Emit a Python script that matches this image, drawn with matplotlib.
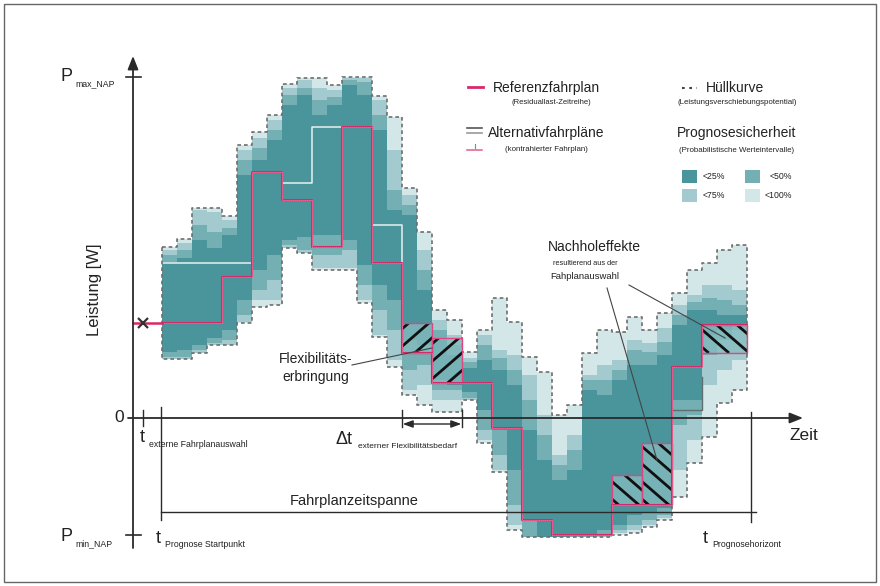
import numpy as np
import matplotlib
matplotlib.use('Agg')
import matplotlib.pyplot as plt
from matplotlib.patches import Rectangle

plt.rcParams['font.family'] = ['Liberation Sans', 'DejaVu Sans']

# ---------------- data (time in schedule steps, power in arbitrary units) -------------
# envelope (<100 %) and probability intervals per time step
hull_hi = [171,179,210,210,202,273,286,303,334,340, 340,333,341,341,322,301,230,186,108,98,
           66,88,120,96,61,46,3,13,65,88, 86,101,88,105,125,148,155,168,173]
hull_lo = [59,59,65,73,73,95,111,113,170,165, 148,148,148,115,81,51,23,13,6,6,
           18,-25,-54,-112,-119,-119,-119,-119,-119,-119, -117,-115,-109,-102,-79,-45,-19,15,28]
c75_hi = [168,175,208,206,198,268,280,298,330,338, 330,328,340,340,318,268,223,168,98,83,
          60,83,68,63,43,3,-37,-17,43,53, 58,78,75,90,113,123,133,133,128]
c75_lo = [59,59,65,73,73,96,118,118,170,165, 150,150,150,118,83,58,28,33,18,18,
          18,-22,-52,-107,-119,-119,-119,-119,-119,-119, -115,-112,-107,-100,-52,-22,33,48,58]
c50_hi = [163,168,193,186,190,258,270,288,323,330, 318,321,338,336,303,228,213,148,88,73,
          56,73,60,48,18,-17,-47,-32,38,38, 48,68,66,76,103,116,120,118,113]
c50_lo = [61,61,68,75,78,103,128,138,173,168, 163,163,168,133,108,88,48,53,28,28,
          20,-12,-37,-87,-119,-119,-119,-119,-119,-117, -112,-107,-102,-97,-7,3,63,78,88]
c25_hi = [156,160,178,170,183,243,258,278,313,323, 303,313,333,323,288,208,203,128,78,63,
          50,58,48,33,-12,-42,-62,-52,28,23, 38,53,53,63,93,108,108,103,103]
c25_lo = [66,68,73,80,88,118,148,163,178,181, 183,183,178,153,133,118,78,73,38,33,
          26,8,-12,-52,-102,-119,-119,-117,-117,-112, -107,-97,-94,-90,18,18,83,88,93]

# reference schedule (one value per 2 time steps)
ref_start = [0,2,4,6,8,10,12,14,16,18,20,22,24,26,28,30,32,34,36,38]
ref_vals = [95,95,141,246,218,171,291,155,65,35,35,-10,-102,-117,-117,-87,-87,51,93,93]

# alternative schedules
alt1_t = [0,2,4,6,8,10,12,14,16]
alt1_v = [155,155,155,246,235,291,291,193,95]
alt2_t = [34,36]
alt2_v = [8,41]

# hatched differences (flexibility provision / catch-up effects)
hatch_t0 = [16,18,30,32,36]
hatch_t1 = [18,20,32,34,39]
hatch_lo = [65,35,-87,-87,65]
hatch_hi = [95,80,-57,-25,93]
hatch_dir = [1, 1, -1, -1, -1]   # 1 = rising '/', -1 = falling '\'

P_max, P_min = 341, -117
t_ext, t_start, t_horizon = -1.27, 0.0, 39.27
flex_t0, flex_t1 = 16, 20

legend_labels = ['<25%', '<50%', '<75%', '<100%']

# ---------------- styling -------------
C25, C50, C75, C100 = '#4a959c', '#74afb3', '#a3cbcf', '#d3e6e8'
RED = '#d62a68'
DARK = '#2a2a2a'

fig = plt.figure(figsize=(8.8, 5.86), dpi=100)
ax = fig.add_axes([0, 0, 1, 1])
W, H = 880, 586
ax.set_xlim(-162/15, (W-162)/15)
ax.set_ylim(418-H, 418)
ax.axis('off')

def X(px):
    return (px-162)/15
def Y(py):
    return 418-py

fig.patches.append(Rectangle((0.004, 0.006), 0.992, 0.988, transform=fig.transFigure,
                             fill=False, ec='#666666', lw=1.0))

n = len(hull_hi)
t_edges = np.arange(n+1)
def ext(v):
    return np.append(v, v[-1])

for lo, hi, col in [(hull_lo, hull_hi, C100), (c75_lo, c75_hi, C75),
                    (c50_lo, c50_hi, C50), (c25_lo, c25_hi, C25)]:
    ax.fill_between(t_edges, ext(lo), ext(hi), step='post', color=col, lw=0, zorder=1)

# envelope outline
sx = np.repeat(t_edges, 2)[1:-1]
top_y = np.repeat(hull_hi, 2)
bot_y = np.repeat(hull_lo, 2)
ox = np.concatenate([sx, sx[::-1], sx[:1]])
oy = np.concatenate([top_y, bot_y[::-1], top_y[:1]])
ax.plot(ox, oy, color='#6e6e6e', lw=1.2, ls=(0, (2.2, 1.8)), zorder=3)

# alternative schedules
ax.step(alt1_t, alt1_v, where='post', color='#e9f1f2', lw=1.1, zorder=2)
ax.step(alt2_t, alt2_v, where='post', color='#5f6e70', lw=1.0, zorder=2)

# hatched boxes (diagonal lines clipped to the box)
k_slope = 13.0   # power units per time step for the hatch lines
for t0, t1, lo, hi, d in zip(hatch_t0, hatch_t1, hatch_lo, hatch_hi, hatch_dir):
    rect = Rectangle((t0, lo), t1-t0, hi-lo, facecolor='#86bdc0', alpha=0.75, lw=0, zorder=4)
    ax.add_patch(rect)
    span = (hi-lo)/k_slope
    for c in np.arange(t0-span+0.45, t1+0.01, 1.35):
        if d > 0:
            ln, = ax.plot([c, c+span], [lo, hi], color='#111111', lw=2.0,
                          solid_capstyle='butt', zorder=4)
        else:
            ln, = ax.plot([c, c+span], [hi, lo], color='#111111', lw=2.0,
                          solid_capstyle='butt', zorder=4)
        ln.set_clip_path(rect)
    ax.add_patch(Rectangle((t0, lo), t1-t0, hi-lo, facecolor='none', edgecolor='#e0457f',
                           lw=1.0, zorder=5))

# reference schedule
rx = np.append(ref_start, n)
ry = ext(ref_vals)
ax.step(rx, ry, where='post', color=RED, lw=1.5, zorder=6)
ax.step(rx, ry, where='post', color='#f6b6cb', lw=0.6, ls=(0, (1, 1.4)), zorder=6)
t_axis = X(133)
ax.plot([t_axis, 0], [ref_vals[0]]*2, color=RED, lw=1.8, zorder=6)
ax.plot([t_ext], [ref_vals[0]], marker='x', color='#333333', ms=7, mew=1.6, zorder=7)

# axes
arrow = dict(arrowstyle='-|>,head_length=0.8,head_width=0.32', color=DARK, lw=1.3,
             shrinkA=0, shrinkB=0)
ax.annotate('', xy=(t_axis, Y(56)), xytext=(t_axis, Y(548)), arrowprops=arrow, zorder=8)
ax.annotate('', xy=(X(803), 0), xytext=(X(128), 0), arrowprops=arrow, zorder=8)
for p in (P_max, P_min):
    ax.plot([X(126), X(141)], [p, p], color=DARK, lw=1.2, zorder=8)

# time markers
ax.plot([t_ext, t_ext], [Y(410), Y(426)], color=DARK, lw=1.0, zorder=8)
ax.plot([t_start-0.07, t_start-0.07], [Y(407), Y(520)], color=DARK, lw=1.0, zorder=8)
ax.plot([t_start-0.07, X(756)], [Y(512), Y(512)], color=DARK, lw=1.0, zorder=8)
ax.plot([t_horizon, t_horizon], [Y(412), Y(522)], color=DARK, lw=1.0, zorder=8)
for t in (flex_t0, flex_t1):
    ax.plot([t, t], [Y(410), Y(427)], color=DARK, lw=1.0, zorder=8)
ax.annotate('', xy=(flex_t1-0.05, Y(424)), xytext=(flex_t0+0.05, Y(424)),
            arrowprops=dict(arrowstyle='<|-|>,head_length=0.6,head_width=0.22', color=DARK,
                            lw=1.0, shrinkA=0, shrinkB=0), zorder=8)

TXT = '#222222'
def txt(px, py, s, size, ha='left', va='baseline', **kw):
    ax.text(X(px), Y(py), s, fontsize=size, ha=ha, va=va, color=TXT, **kw)

# axis labels
txt(61, 81, 'P', 13)
txt(75, 86, 'max_NAP', 6.3)
txt(61, 541, 'P', 13)
txt(75, 546, 'min_NAP', 6.3)
txt(124, 418, '0', 12.5, ha='right', va='center')
txt(95, 290, 'Leistung [W]', 12, ha='center', va='center', rotation=90)
txt(790, 440, 'Zeit', 12.5)

txt(140, 442, 't', 13)
txt(149, 447, 'externe Fahrplanauswahl', 6.3)
txt(336, 444, 'Δt', 13)
txt(358, 448, 'externer Flexibilitätsbedarf', 6.0)
txt(354, 505, 'Fahrplanzeitspanne', 10.5, ha='center')
txt(156, 543, 't', 13)
txt(165, 547, 'Prognose Startpunkt', 6.3)
txt(703, 543, 't', 13)
txt(712, 547, 'Prognosehorizont', 6.3)

# annotations
ax.text(X(316), Y(368), 'Flexibilitäts-\nerbringung', fontsize=10, ha='center', va='center',
        color=TXT, linespacing=1.35, multialignment='center')
ax.plot([X(352), X(432)], [Y(365), Y(348)], color='#444444', lw=0.8, zorder=9)
txt(548, 251, 'Nachholeffekte', 10)
txt(553, 265, 'resultierend aus der', 5.3)
txt(550, 279, 'Fahplanauswahl', 6.8)
ax.plot([X(607), X(657)], [Y(288), Y(460)], color='#444444', lw=0.8, zorder=9)
ax.plot([X(629), X(725)], [Y(285), Y(338)], color='#444444', lw=0.8, zorder=9)

# legend
ax.plot([X(468), X(483)], [Y(87), Y(87)], color=RED, lw=2.0)
txt(493, 92, 'Referenzfahrplan', 10)
txt(551, 104, '(Residuallast-Zeitreihe)', 5.5, ha='center')
ax.plot([X(682), X(697)], [Y(88), Y(88)], color='#444444', lw=1.5, ls=(0, (1.3, 2.2)))
txt(706, 92, 'Hüllkurve', 10)
txt(737, 104, '(Leistungsverschiebungspotential)', 5.7, ha='center')
ax.plot([X(467), X(482)], [Y(128), Y(128)], color='#555555', lw=1.2)
ax.plot([X(467), X(482)], [Y(133), Y(133)], color='#999999', lw=1.2)
txt(488, 137, 'Alternativfahrpläne', 10)
ax.plot([X(467), X(482)], [Y(150), Y(150)], color='#e65b8c', lw=1.1)
ax.plot([X(474.5), X(474.5)], [Y(144), Y(148)], color='#888888', lw=0.8)
txt(546, 151, '(kontrahierter Fahrplan)', 5.7, ha='center')
txt(737, 137, 'Prognosesicherheit', 10, ha='center')
txt(737, 152, '(Probabilistische Werteintervalle)', 5.7, ha='center')

sq_cols = [C25, C50, C75, C100]
sq_px = [682, 745, 682, 745]
sq_py = [183, 183, 202, 202]
lab_px = [703, 770, 703, 765]
for col, sx0, sy0, lx, lab in zip(sq_cols, sq_px, sq_py, lab_px, legend_labels):
    ax.add_patch(Rectangle((X(sx0), Y(sy0)), 1.0, 13, facecolor=col, lw=0))
    txt(lx, sy0-6.5, lab, 6.3, va='center')

fig.savefig('out.png', dpi=100)
